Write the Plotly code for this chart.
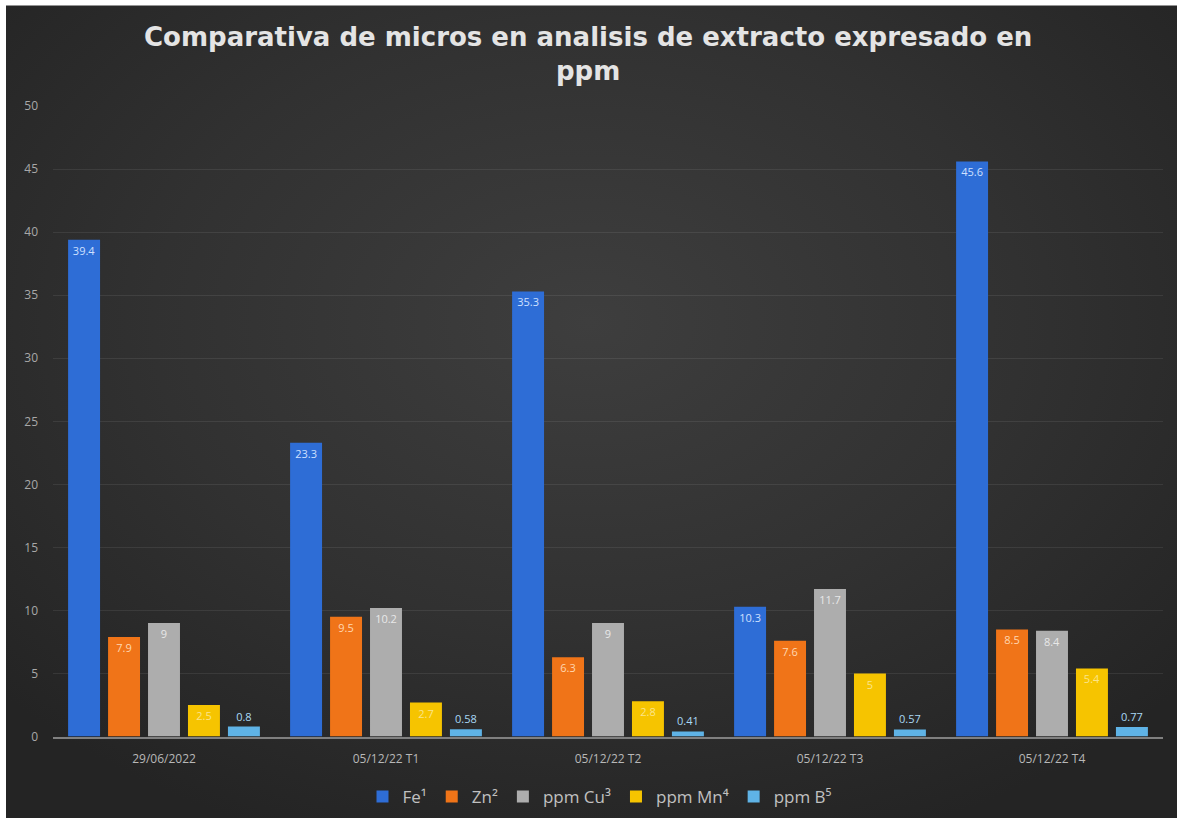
import base64
import plotly.graph_objects as go

# Sampling dates / treatments
categories = ["29/06/2022", "05/12/22 T1", "05/12/22 T2", "05/12/22 T3", "05/12/22 T4"]

# Micronutrient concentrations (ppm)
fe = [39.4, 23.3, 35.3, 10.3, 45.6]
zn = [7.9, 9.5, 6.3, 7.6, 8.5]
cu = [9, 10.2, 9, 11.7, 8.4]
mn = [2.5, 2.7, 2.8, 5.0, 5.4]
b = [0.8, 0.58, 0.41, 0.57, 0.77]

series_names = ["Fe¹", "Zn²", "ppm Cu³", "ppm Mn⁴", "ppm B⁵"]
y_ticks = [0, 5, 10, 15, 20, 25, 30, 35, 40, 45, 50]

W, H = 1177, 818
L, R, T, B = 53, 14, 106, 79
plot_w, plot_h = W - L - R, H - T - B

# Dark radial-gradient backdrop
svg = f"""<svg xmlns='http://www.w3.org/2000/svg' width='{W}' height='{H}' viewBox='0 0 {W} {H}' preserveAspectRatio='none'>
<defs><radialGradient id='g' cx='50%' cy='40%' r='65%'>
<stop offset='0%' stop-color='#3e3e3e'/><stop offset='55%' stop-color='#313131'/><stop offset='100%' stop-color='#242424'/>
</radialGradient></defs>
<rect x='0' y='0' width='{W}' height='{H}' fill='url(#g)'/></svg>"""
bg_src = "data:image/svg+xml;base64," + base64.b64encode(svg.encode()).decode()


def px_x(px):
    return (px - L) / plot_w


def px_y(py):
    return (H - B - py) / plot_h


fig = go.Figure()


def add_series(name, values, color, txtcolor, position):
    fig.add_trace(go.Bar(
        name=name,
        x=categories,
        y=values,
        marker=dict(color=color, line=dict(width=0)),
        text=[f"{v:g}" for v in values],
        textposition=position,
        insidetextanchor="end",
        textangle=0,
        constraintext="none",
        textfont=dict(family="Open Sans", size=11, color=txtcolor),
        cliponaxis=False,
    ))


add_series(series_names[0], fe, "#2e6dd6", "#cfe0ff", "inside")
add_series(series_names[1], zn, "#f07418", "#ffd7b0", "inside")
add_series(series_names[2], cu, "#adadad", "#e8e8e8", "inside")
add_series(series_names[3], mn, "#f6c400", "#fbe48a", "inside")
add_series(series_names[4], b, "#5fb3e6", "#a9d9f5", "outside")

fig.update_layout(
    width=W,
    height=H,
    margin=dict(l=L, r=R, t=T, b=B),
    paper_bgcolor="#262626",
    plot_bgcolor="rgba(0,0,0,0)",
    barmode="group",
    bargap=0.1,
    bargroupgap=0.2,
    images=[dict(
        source=bg_src,
        xref="paper", yref="paper",
        x=px_x(-20), y=px_y(-20),
        sizex=(W + 40) / plot_w, sizey=(H + 40) / plot_h,
        xanchor="left", yanchor="top",
        sizing="stretch", layer="below",
    )],
    shapes=[
        # thin white margin along the left and top edges
        dict(type="rect", xref="paper", yref="paper", layer="above",
             x0=px_x(-5), x1=px_x(6), y0=px_y(H + 5), y1=px_y(-5),
             fillcolor="white", line=dict(width=0)),
        dict(type="rect", xref="paper", yref="paper", layer="above",
             x0=px_x(-5), x1=px_x(W + 5), y0=px_y(5), y1=px_y(-5),
             fillcolor="white", line=dict(width=0)),
    ],
    annotations=[dict(
        text="Comparativa de micros en analisis de extracto expresado en<br>ppm",
        xref="paper", yref="paper",
        x=px_x(588), y=px_y(20),
        xanchor="center", yanchor="top",
        showarrow=False, align="center",
        font=dict(family="DejaVu Sans", size=26, color="#e4e4e4", weight="bold"),
    )],
    font=dict(family="Open Sans", color="#b5b5b5"),
    legend=dict(
        orientation="h",
        xref="container", yref="container",
        x=600 / W, xanchor="center",
        y=(H - 797) / H, yanchor="middle",
        font=dict(size=17, color="#c0c0c0"),
        bgcolor="rgba(0,0,0,0)",
        itemwidth=30,
    ),
    xaxis=dict(
        showline=True, linecolor="#808080", linewidth=2,
        showgrid=False, ticks="",
        tickfont=dict(size=12, color="#b8b8b8"),
        ticklabelstandoff=10,
    ),
    yaxis=dict(
        range=[0, 50],
        tickvals=y_ticks,
        showgrid=True, gridcolor="rgba(255,255,255,0.08)", gridwidth=1,
        zeroline=False, showline=False, ticks="",
        tickfont=dict(size=12, color="#a8a8a8"),
        ticklabelstandoff=14,
    ),
)

page_style = (
    "document.documentElement.style.background='#262626';"
    "document.body.style.background='#262626';"
    "document.body.style.margin='0';"
    "document.body.style.overflow='hidden';"
)
fig.write_html("out.html", post_script=page_style)
